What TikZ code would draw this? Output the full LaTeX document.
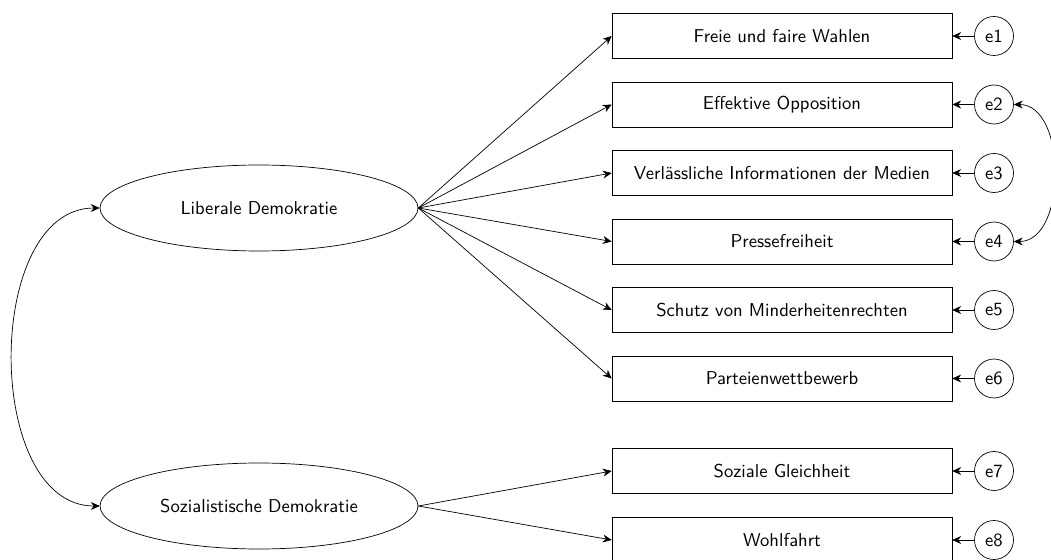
\documentclass[tikz,border=0pt]{standalone}
\usetikzlibrary{shapes.geometric,arrows.meta}
\tikzset{
  ind/.style={draw, rectangle, minimum width=6.8cm, minimum height=0.9cm, font=\sffamily\fontsize{10.6}{12}\selectfont},
  err/.style={draw, circle, minimum size=0.78cm, inner sep=0pt, font=\sffamily\fontsize{10.6}{12}\selectfont},
  lat/.style={draw, ellipse, minimum width=6.36cm, minimum height=1.72cm, inner sep=0pt, font=\sffamily\fontsize{10.6}{12}\selectfont},
  >={Stealth[length=5pt,width=4.5pt,inset=1.6pt]}
}
\begin{document}
\begin{tikzpicture}[x=0.02cm,y=-0.02cm]
\useasboundingbox (0,0) rectangle (1051,560);
\node[lat] (ld) at (259,208) {Liberale Demokratie};
\node[lat] (sd) at (259,506) {Sozialistische Demokratie};
\foreach \i/\t/\y in {1/Freie und faire Wahlen/36,
                      2/Effektive Opposition/104.5,
                      3/Verlässliche Informationen der Medien/173,
                      4/Pressefreiheit/241.5,
                      5/Schutz von Minderheitenrechten/310,
                      6/Parteienwettbewerb/378.5,
                      7/Soziale Gleichheit/471,
                      8/Wohlfahrt/540}
{
  \node[ind] (x\i) at (782,\y) {\t};
  \node[err] (e\i) at (994,\y) {e\i};
  \draw[->] (e\i) -- (x\i);
}
\foreach \i in {1,...,6}
  \draw[->] (ld.east) -- (x\i.west);
\foreach \i in {7,8}
  \draw[->] (sd.east) -- (x\i.west);
% correlations
\draw[<->] (ld.west) to[out=180,in=180] (sd.west);
\draw[<->] (e2.east) to[out=0,in=0] (e4.east);
\end{tikzpicture}
\end{document}
